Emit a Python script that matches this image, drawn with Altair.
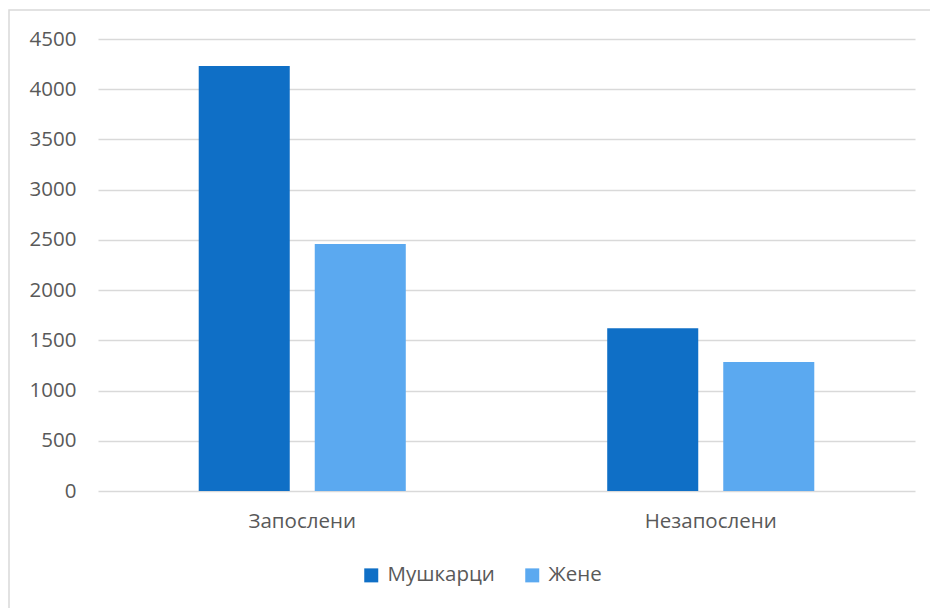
import altair as alt
import pandas as pd

categories = ["Запослени", "Незапослени"]
series = ["Мушкарци", "Жене"]
men = [4230, 1620]
women = [2460, 1285]
y_ticks = [0, 500, 1000, 1500, 2000, 2500, 3000, 3500, 4000, 4500]
colors = ["#0F6FC6", "#5BA9F0"]

rows = []
for i, c in enumerate(categories):
    rows.append({"cat": c, "ser": series[0], "val": men[i]})
    rows.append({"cat": c, "ser": series[1], "val": women[i]})
df = pd.DataFrame(rows)

FONT = "Open Sans"
TXT = "#595959"
FS = 20.5

bars = alt.Chart(df).mark_bar().encode(
    x=alt.X("cat:N", sort=categories, title=None,
            scale=alt.Scale(paddingInner=0, paddingOuter=0),
            axis=alt.Axis(labelAngle=0, ticks=False, domain=False, grid=False,
                          labelFontSize=FS, labelColor=TXT, labelFont=FONT,
                          labelPadding=20)),
    xOffset=alt.XOffset("ser:N", sort=series,
                        scale=alt.Scale(paddingInner=0.2155, paddingOuter=0.868)),
    y=alt.Y("val:Q", title=None,
            scale=alt.Scale(domain=[0, 4500], nice=False),
            axis=alt.Axis(values=y_ticks, format="d", ticks=False, domain=False,
                          gridColor="#D9D9D9", gridWidth=1.5,
                          labelFontSize=FS, labelColor=TXT, labelFont=FONT,
                          labelPadding=22)),
    color=alt.Color("ser:N", sort=series, title=None,
                    scale=alt.Scale(domain=series, range=colors),
                    legend=alt.Legend(orient="none", direction="horizontal",
                                      legendX=263, legendY=526,
                                      symbolType="square", symbolSize=196,
                                      symbolStrokeWidth=0,
                                      labelFontSize=FS, labelColor=TXT, labelFont=FONT,
                                      labelOffset=6, columnPadding=27)),
)

border = alt.Chart(alt.Data(values=[{}])).mark_rect(
    fill=None, stroke="#D9D9D9", strokeWidth=1.5
).encode(
    x=alt.value(-89), x2=alt.value(840),
    y=alt.value(-29), y2=alt.value(600),
)

chart = alt.layer(border, bars).properties(
    width=817, height=452,
    autosize=alt.AutoSizeParams(type="none"),
    padding={"left": 98, "top": 39, "right": 15, "bottom": 117},
    background="white",
).configure_view(stroke=None)

chart.save("out.html", embed_options={"renderer": "svg", "actions": False})
